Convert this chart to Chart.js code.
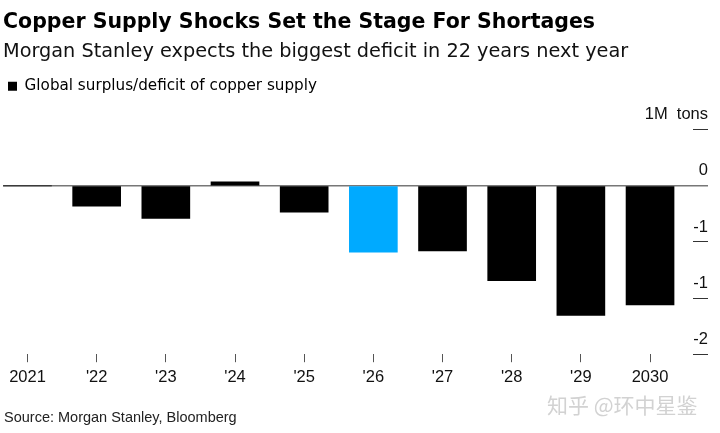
<!DOCTYPE html>
<html><head><meta charset="utf-8">
<script src="https://cdn.jsdelivr.net/npm/chart.js@4"></script>
<style>
html,body{margin:0;padding:0;background:#fff;}
#wrap{position:relative;width:720px;height:433px;overflow:hidden;}
canvas{position:absolute;left:0;top:0;}
#source{position:absolute;left:4px;top:409px;font:14.5px "Liberation Sans",Arial,sans-serif;color:#222;white-space:nowrap;}
#wm{position:absolute;left:547px;top:389px;font:21px "Noto Sans CJK SC";color:#d2d2d2;white-space:nowrap;}
</style></head><body>
<div id="wrap"><canvas id="c" width="720" height="433"></canvas>
<div id="source">Source: Morgan Stanley, Bloomberg</div>
<div id="wm">知乎 @环中星鉴</div></div>
<script>
const categories = ['2021', "'22", "'23", "'24", "'25", "'26", "'27", "'28", "'29", '2030'];
const values = [0, -0.18, -0.29, 0.035, -0.235, -0.59, -0.58, -0.845, -1.155, -1.06];
const highlightCategory = "'26";
const yTickValues = [0.5, 0, -0.5, -1, -1.5];
const yTickLabels = ['1M  tons', '0', '-1', '-1', '-2'];
const seriesName = 'Global surplus/deficit of copper supply';

const FONT = '"Liberation Sans", Arial, sans-serif';
const HEAD = '"DejaVu Sans", sans-serif';
Chart.defaults.font.family = FONT;
Chart.defaults.color = '#111';

new Chart(document.getElementById('c'), {
  type: 'bar',
  data: {
    datasets: [{
      label: seriesName,
      data: values.map((v, i) => ({x: i, y: v})),
      backgroundColor: (c) => (c.dataIndex !== undefined && categories[c.dataIndex] === highlightCategory) ? '#00aaff' : '#000000',
      borderWidth: 0,
      barThickness: 48
    }]
  },
  options: {
    responsive: false,
    animation: false,
    devicePixelRatio: 1,
    layout: {padding: {left: 3, right: 12, top: 0, bottom: 41}},
    plugins: {
      title: {
        display: true, align: 'start', color: '#000',
        text: 'Copper Supply Shocks Set the Stage For Shortages',
        font: {family: HEAD, size: 20.5, weight: 'bold'},
        padding: {top: 10, bottom: 3}
      },
      subtitle: {
        display: true, align: 'start', color: '#111',
        text: 'Morgan Stanley expects the biggest deficit in 22 years next year',
        font: {family: HEAD, size: 19.3},
        padding: {top: 3, bottom: 10}
      },
      legend: {
        display: true, align: 'start',
        labels: {
          boxWidth: 9, boxHeight: 9, padding: 5, color: '#111',
          font: {family: HEAD, size: 15.2},
          generateLabels: (chart) => [{text: seriesName, fillStyle: '#000', strokeStyle: '#000', lineWidth: 0, hidden: false, datasetIndex: 0}]
        }
      },
      tooltip: {enabled: false}
    },
    scales: {
      x: {
        type: 'linear', min: -0.354, max: 9.621, offset: false,
        afterBuildTicks: (s) => { s.ticks = categories.map((c, i) => ({value: i})); },
        grid: {display: true, offset: false, drawOnChartArea: false, drawTicks: true, tickLength: 8, color: '#555', tickColor: '#555', lineWidth: 1},
        border: {display: false},
        ticks: {callback: (v) => categories[v], font: {size: 16.5}, color: '#111', padding: 5, maxRotation: 0, autoSkip: false}
      },
      y: {
        position: 'right', min: -1.5, max: 0.73,
        afterBuildTicks: (s) => { s.ticks = yTickValues.map(v => ({value: v})); },
        afterFit: (s) => { s.width = 15; },
        grid: {
          drawOnChartArea: true, drawTicks: true, tickLength: 15,
          color: (c) => (c.tick && c.tick.value === 0) ? '#777' : 'rgba(0,0,0,0)',
          tickColor: (c) => (c.tick && c.tick.value === 0) ? '#777' : '#333',
          lineWidth: (c) => (c.tick && c.tick.value === 0) ? 1.5 : 1
        },
        border: {display: false},
        ticks: {callback: (v, i) => yTickLabels[i], mirror: true, crossAlign: 'near', labelOffset: -15, padding: 15, font: {size: 16.5}, color: '#111', autoSkip: false}
      }
    }
  }
});
</script>
</body></html>
